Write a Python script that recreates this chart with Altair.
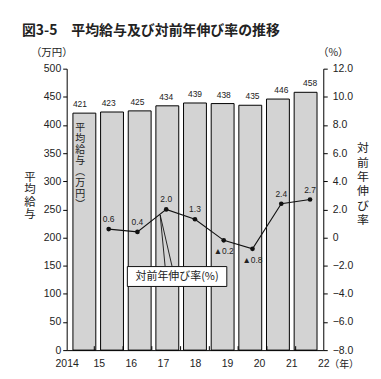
import altair as alt
import pandas as pd

# ---- data ----
years = ["2014", "15", "16", "17", "18", "19", "20", "21", "22"]
salary = [421, 423, 425, 434, 439, 438, 435, 446, 458]          # 万円
growth = [0.6, 0.4, 2.0, 1.3, -0.2, -0.8, 2.4, 2.7]             # %, 2015-2022
growth_labels = ["0.6", "0.4", "2.0", "1.3", "▲0.2", "▲0.8", "2.4", "2.7"]
left_ticks = list(range(0, 501, 50))
right_ticks = list(range(-8, 13, 2))

NUM = "Liberation Sans, Arial, sans-serif"
JP = "Noto Sans CJK JP, sans-serif"
BAR_FILL = "#d3d3d3"

bars_df = pd.DataFrame({"i": list(range(len(years))), "year": years, "salary": salary})
line_df = pd.DataFrame({"i": list(range(1, len(years))), "g": growth, "lab": growth_labels})
gap_df = pd.DataFrame({"gx": [k + 0.5 for k in range(len(years) - 1)]})
lab_df = pd.DataFrame({"k": list(range(len(years)))})
one = pd.DataFrame({"a": [0]})

XS = alt.Scale(domain=[-0.46, len(years) - 1 + 0.46], nice=False, zero=False)
Y1 = alt.Scale(domain=[0, 500], nice=False)
Y2 = alt.Scale(domain=[-8, 12], nice=False)

W, H = 258, 283

# ---- salary layers (left axis) ----
base_b = alt.Chart(bars_df)
bars = base_b.mark_bar(size=23, fill=BAR_FILL, stroke="black", strokeWidth=1).encode(
    x=alt.X("i:Q", scale=XS,
            axis=alt.Axis(orient="bottom", values=[], labels=False, ticks=False, grid=False,
                          title=None, domainColor="black", domainWidth=1)),
    y=alt.Y("salary:Q", scale=Y1,
            axis=alt.Axis(orient="left", values=left_ticks, grid=False, title=None, tickSize=4,
                          tickColor="black", domainColor="black", labelFont=NUM,
                          labelFontSize=10.5, labelColor="#222", labelPadding=2,
                          labelOverlap=False)),
)
bar_text = base_b.mark_text(font=NUM, fontSize=8.5, baseline="middle", dy=-9, color="#222").encode(
    x=alt.X("i:Q", scale=XS, axis=None), y=alt.Y("salary:Q", scale=Y1, axis=None), text="salary:Q")
gap_ticks = alt.Chart(gap_df).mark_rule(color="black", strokeWidth=1).encode(
    x=alt.X("gx:Q", scale=XS, axis=None),
    y=alt.Y("y0:Q", scale=Y1, axis=None), y2="y1:Q",
).transform_calculate(y0="0", y1="7")

# ---- growth layers (right axis) ----
base_l = alt.Chart(line_df)
line = base_l.mark_line(color="#111", strokeWidth=1.1).encode(
    x=alt.X("i:Q", scale=XS, axis=None),
    y=alt.Y("g:Q", scale=Y2,
            axis=alt.Axis(orient="right", values=right_ticks, grid=False, title=None,
                          tickSize=4, tickColor="black", domainColor="black",
                          labelFont=NUM, labelFontSize=10.5, labelColor="#222",
                          labelPadding=5, labelOverlap=False,
                          labelExpr="datum.value == 0 ? '0' : (datum.value < 0 ? '\u2212' + format(-datum.value, '.1f') : format(datum.value, '.1f'))")),
)
points = base_l.mark_circle(size=22, color="#111", opacity=1).encode(
    x=alt.X("i:Q", scale=XS, axis=None), y=alt.Y("g:Q", scale=Y2, axis=None))
pos_text = base_l.transform_filter("datum.g >= 0").mark_text(
    font=NUM, fontSize=8.5, baseline="middle", dy=-10, color="#222").encode(
    x=alt.X("i:Q", scale=XS, axis=None), y=alt.Y("g:Q", scale=Y2, axis=None), text="lab:N")
neg_text = base_l.transform_filter("datum.g < 0").mark_text(
    font=NUM, fontSize=8.5, baseline="middle", dy=11, color="#222").encode(
    x=alt.X("i:Q", scale=XS, axis=None), y=alt.Y("g:Q", scale=Y2, axis=None), text="lab:N")

# ---- year labels along the bottom ----
label_expr = "[" + ",".join("'%s'" % y for y in years) + "][datum.value]"
xlabels = alt.Chart(lab_df).mark_point(opacity=0).encode(
    x=alt.X("k:Q", scale=alt.Scale(domain=[0, len(years) - 1], nice=False),
            axis=alt.Axis(orient="bottom", values=list(range(len(years))), labelExpr=label_expr,
                          ticks=False, tickSize=0, domain=False, grid=False, title=None,
                          labelFont=NUM, labelFontSize=10.5, labelColor="#222",
                          labelPadding=8, labelFlush=False, labelOverlap=False)),
    y=alt.value(H / 2),
)

# ---- annotations (texts, callout) ----
def txt(s, x, y, size=11, font=JP, align="center", baseline="middle", weight="normal", lh=None):
    kw = dict(font=font, fontSize=size, align=align, baseline=baseline, fontWeight=weight, color="#222")
    if lh is not None:
        kw["lineHeight"] = lh
    return alt.Chart(one).mark_text(**kw).encode(x=alt.value(x), y=alt.value(y), text=alt.value(s))

title = txt("図3-5\u3000平均給与及び対前年伸び率の推移", -45, -38, size=14, align="left", weight="bold")
unit_l = txt("（万円）", -15, -16, size=10.5)
unit_r = txt("（%）", 268, -16, size=10.5)
nen = txt("（年）", 264, 298, size=10, align="left")
ltitle = txt(list("平均給与"), -37, 104, size=11.5, baseline="top", lh=12.5)
rtitle = txt(list("対前年伸び率"), 298, 75, size=12, baseline="top", lh=14.5)
inbar = txt(["平", "均", "給", "与", "︵", "万", "円", "︶"], 13.5, 55, size=10, baseline="top", lh=11)

wedge = alt.Chart(pd.DataFrame({"x0": [94, 94], "y0": [147, 147], "x1": [99, 106], "y1": [199, 199]})).mark_rule(
    color="#111", strokeWidth=0.9).encode(
    x=alt.X("x0:Q", scale=None, axis=None), y=alt.Y("y0:Q", scale=None, axis=None),
    x2="x1:Q", y2="y1:Q")
box = alt.Chart(one).mark_rect(fill="white", stroke="#111", strokeWidth=1).encode(
    x=alt.value(61), x2=alt.value(161), y=alt.value(199), y2=alt.value(219))
box_text = txt("対前年伸び率(%)", 111, 209, size=11)

chart = alt.layer(
    bars, bar_text, gap_ticks, line, points, pos_text, neg_text, xlabels,
    wedge, box, box_text,
    title, unit_l, unit_r, nen, ltitle, rtitle, inbar,
).resolve_scale(x="independent", y="independent").properties(
    width=W, height=H,
    autosize=alt.AutoSizeParams(type="none"),
    padding={"left": 59, "top": 60, "right": 50, "bottom": 20},
    background="white",
).configure_view(stroke=None)

chart.save("out.html", embed_options={"renderer": "svg", "actions": False})
